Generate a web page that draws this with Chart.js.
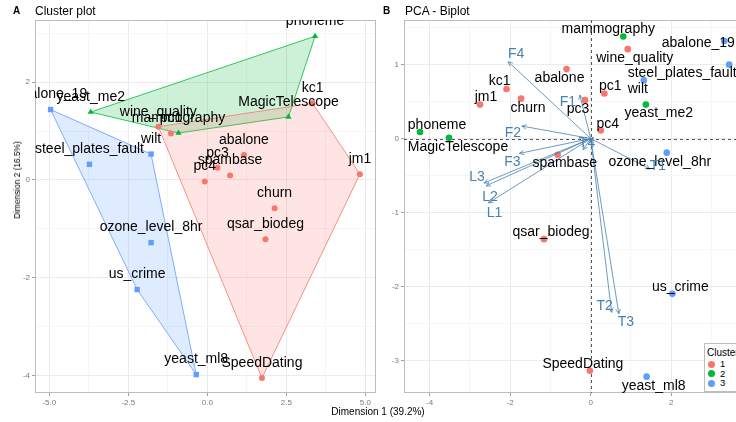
<!DOCTYPE html>
<html>
<head>
<meta charset="utf-8">
<script src="https://cdn.jsdelivr.net/npm/chart.js@4.4.0/dist/chart.umd.min.js"></script>
<style>
html, body { margin: 0; padding: 0; background: #fff; overflow: hidden; width: 736px; height: 422px; }
body { position: relative; font-family: "Liberation Sans", Arial, sans-serif; color: #000; }
canvas { position: absolute; top: 0; }
#cA { left: 0; }
#cB { left: 380px; }
.tag { position: absolute; top: 6px; font-size: 10px; line-height: 10px; font-weight: bold; }
.ttl { position: absolute; top: 5px; font-size: 12px; line-height: 12px; }
#xt { position: absolute; left: 378px; top: 406px; font-size: 10px; line-height: 12px; transform: translateX(-50%); white-space: nowrap; }
#yt { position: absolute; left: 17px; top: 180px; font-size: 8.3px; line-height: 10px; transform: translate(-50%, -50%) rotate(-90deg); white-space: nowrap; }
#legend { position: absolute; left: 704px; top: 343px; width: 60px; height: 49px; background: #fff; border: 1px solid #bdbdbd; box-sizing: border-box; font-size: 10px; }
#legend .h { position: absolute; left: 2px; top: 3px; line-height: 11px; }
#legend .it { position: absolute; left: 3px; height: 10px; line-height: 10px; font-size: 9.5px; }
#legend .it i { display: inline-block; width: 7px; height: 7px; border-radius: 50%; margin-right: 5px; vertical-align: -0.5px; }
</style>
</head>
<body>
<canvas id="cA" width="380" height="422" style="width:380px;height:422px"></canvas>
<canvas id="cB" width="400" height="422" style="width:400px;height:422px"></canvas>
<div class="tag" style="left:13px">A</div>
<div class="ttl" style="left:35px">Cluster plot</div>
<div class="tag" style="left:383px">B</div>
<div class="ttl" style="left:405px">PCA - Biplot</div>
<div id="xt">Dimension 1 (39.2%)</div>
<div id="yt">Dimension 2 (16.5%)</div>
<div id="legend"></div>
<script>
var names = ['abalone', 'abalone_19', 'churn', 'jm1', 'kc1', 'MagicTelescope', 'mammography',
    'ozone_level_8hr', 'pc1', 'pc3', 'pc4', 'phoneme', 'qsar_biodeg', 'spambase', 'SpeedDating',
    'steel_plates_fault', 'us_crime', 'wilt', 'wine_quality', 'yeast_me2', 'yeast_ml8'];
var cluster = [1, 3, 1, 1, 1, 2, 2, 3, 1, 1, 1, 2, 1, 1, 1, 3, 3, 3, 1, 2, 3];

// cluster plot coordinates
var dim1 = [1.16, -4.96, 2.13, 4.83, 3.33, 2.57, -0.91, -1.78, -1.15, 0.32, -0.08, 3.41, 1.84, 0.72, 1.73, -3.73, -2.22, -1.78, -1.55, -3.69, -0.35];
var dim2 = [0.51, 1.44, -0.58, 0.12, 1.57, 1.29, 0.96, -1.28, 0.95, 0.25, -0.03, 2.94, -1.21, 0.09, -4.05, 0.32, -2.24, 0.53, 1.09, 1.39, -3.98];

// biplot coordinates
var pcX = [-0.60, 3.32, -1.73, -2.75, -2.09, -3.52, 0.81, 1.89, 0.34, -0.14, 0.25, -4.24, -1.16, -0.82, -0.02, 3.44, 2.03, 1.32, 0.92, 1.37, 1.39];
var pcY = [0.94, 1.32, 0.54, 0.46, 0.67, 0.01, 1.38, -0.19, 0.61, 0.52, 0.11, 0.09, -1.36, -0.22, -3.14, 1.00, -2.10, 0.79, 1.21, 0.46, -3.22];

var varNames = ['F1', 'F2', 'F3', 'F4', 'L1', 'L2', 'L3', 'T1', 'T2', 'T3', 'T4'];
var varX = [-0.27, -1.71, -1.77, -2.05, -2.54, -2.60, -2.65, 1.47, 0.52, 0.70, -0.19];
var varY = [0.59, 0.17, -0.20, 1.04, -0.87, -0.64, -0.60, -0.41, -2.35, -2.37, -0.15];

var clusterIds = [1, 2, 3];
var colors = ['#F8766D', '#00BA38', '#619CFF'];
var fills = ['rgba(248,118,109,0.2)', 'rgba(0,186,56,0.2)', 'rgba(97,156,255,0.2)'];
var shapes = ['circle', 'triangle', 'rect'];
var shapeSize = [3, 3.6, 3.8];

// label nudges in pixels for the biplot (text centre relative to mark)
var nudgeInd = [[-7, 9], [-26, 2], [7, 9], [6, -7], [-7, -8], [9, 9], [-15, -7], [-7, 10], [6, -7], [-7, 9], [7, -6],
    [17, -7], [7, -7], [7, 8], [-7, -7], [-47, 8], [8, -7], [-6, 9], [7, 9], [13, 9], [7, 9]];
var nudgeVar = [[-12, 7], [-9, 7], [-7, 9], [8, -8], [6, 10], [4, 11], [-7, -6], [8, -3], [-7, -6], [7, 8], [4, -7]];

var FONT = '"Liberation Sans", Arial, sans-serif';
var steel = '#4682B4';

function hull(idx, xs, ys) {
    var p = idx.map(function(i) { return { x: xs[i], y: ys[i] }; });
    p.sort(function(a, b) { return a.x - b.x || a.y - b.y; });
    function cross(o, a, b) { return (a.x - o.x) * (b.y - o.y) - (a.y - o.y) * (b.x - o.x); }
    var lower = [], upper = [];
    for (var i = 0; i < p.length; i++) {
        while (lower.length >= 2 && cross(lower[lower.length - 2], lower[lower.length - 1], p[i]) <= 0) lower.pop();
        lower.push(p[i]);
    }
    for (var j = p.length - 1; j >= 0; j--) {
        while (upper.length >= 2 && cross(upper[upper.length - 2], upper[upper.length - 1], p[j]) <= 0) upper.pop();
        upper.push(p[j]);
    }
    upper.pop(); lower.pop();
    var h = lower.concat(upper);
    h.push(h[0]);
    return h;
}

function members(k) {
    var out = [];
    cluster.forEach(function(c, i) { if (c === k) out.push(i); });
    return out;
}

function near(v, step) { return Math.abs(v / step - Math.round(v / step)) < 1e-6; }

function axis(min, max, step, major, fmt, fit, isX) {
    return {
        type: 'linear', min: min, max: max,
        border: { display: false },
        grid: {
            color: function(c) { return c.tick && near(c.tick.value, major) ? '#ebebeb' : '#f6f6f6'; },
            tickColor: function(c) { return c.tick && near(c.tick.value, major) ? '#a0a0a0' : 'rgba(0,0,0,0)'; },
            tickLength: 3, lineWidth: 1
        },
        ticks: {
            stepSize: step, includeBounds: false, autoSkip: false, maxTicksLimit: 100,
            maxRotation: 0, padding: 2, color: '#7a7a7a', font: { size: 8, family: FONT },
            callback: function(v) { return near(v, major) ? fmt(v) : ''; }
        },
        afterFit: function(s) { if (isX) s.height = fit; else s.width = fit; }
    };
}

var frame = {
    id: 'frame',
    beforeDatasetsDraw: function(chart) {
        var a = chart.chartArea, c = chart.ctx;
        c.save();
        c.strokeStyle = '#bdbdbd';
        c.lineWidth = 1;
        c.strokeRect(a.left + 0.5, a.top + 0.5, a.right - a.left - 1, a.bottom - a.top - 1);
        c.restore();
    }
};

function clipArea(chart) {
    var a = chart.chartArea, c = chart.ctx;
    c.beginPath();
    c.rect(a.left, a.top, a.right - a.left, a.bottom - a.top);
    c.clip();
}

// ---------- A: cluster plot ----------
var dsA = [];
clusterIds.forEach(function(k, n) {
    dsA.push({
        type: 'line', data: hull(members(k), dim1, dim2), fill: 'shape',
        backgroundColor: fills[n], borderColor: colors[n], borderWidth: 0.8,
        pointRadius: 0, tension: 0, order: 2
    });
});
clusterIds.forEach(function(k, n) {
    dsA.push({
        type: 'scatter',
        data: members(k).map(function(i) { return { x: dim1[i], y: dim2[i] }; }),
        pointStyle: shapes[n], pointRadius: shapeSize[n], pointBorderWidth: 0,
        backgroundColor: colors[n], borderColor: colors[n], order: 1
    });
});

var labelsA = {
    id: 'labelsA',
    afterDatasetsDraw: function(chart) {
        var xs = chart.scales.x, ys = chart.scales.y, c = chart.ctx;
        c.save();
        clipArea(chart);
        c.font = '14px ' + FONT;
        c.fillStyle = '#000';
        c.textAlign = 'center';
        c.textBaseline = 'middle';
        names.forEach(function(n, i) {
            c.fillText(n, xs.getPixelForValue(dim1[i]), ys.getPixelForValue(dim2[i]) - 15);
        });
        c.restore();
    }
};

new Chart(document.getElementById('cA'), {
    type: 'scatter',
    data: { datasets: dsA },
    options: {
        responsive: false, animation: false,
        layout: { padding: { top: 20, right: 4, left: 0, bottom: 0 } },
        plugins: { legend: { display: false }, tooltip: { enabled: false } },
        scales: {
            x: axis(-5.453, 5.339, 1.25, 2.5, function(v) { return v.toFixed(1); }, 29, true),
            y: axis(-4.356, 3.272, 1, 2, function(v) { return String(Math.round(v)); }, 35, false)
        }
    },
    plugins: [frame, labelsA]
});

// ---------- B: biplot ----------
var dsB = [];
varNames.forEach(function(v, i) {
    dsB.push({
        type: 'line', data: [{ x: 0, y: 0 }, { x: varX[i], y: varY[i] }],
        borderColor: steel, borderWidth: 0.8, pointRadius: 0, fill: false, order: 0
    });
});
clusterIds.forEach(function(k, n) {
    dsB.push({
        type: 'scatter',
        data: members(k).map(function(i) { return { x: pcX[i], y: pcY[i] }; }),
        pointStyle: 'circle', pointRadius: 3.3, pointBorderWidth: 0,
        backgroundColor: colors[n], borderColor: colors[n], order: 1
    });
});

var zeroLines = {
    id: 'zeroLines',
    beforeDatasetsDraw: function(chart) {
        var xs = chart.scales.x, ys = chart.scales.y, c = chart.ctx, a = chart.chartArea;
        var px = Math.round(xs.getPixelForValue(0)) + 0.5, py = Math.round(ys.getPixelForValue(0)) + 0.5;
        c.save();
        c.strokeStyle = '#555';
        c.lineWidth = 1;
        c.setLineDash([3, 3]);
        c.beginPath();
        c.moveTo(px, a.top); c.lineTo(px, a.bottom);
        c.moveTo(a.left, py); c.lineTo(a.right, py);
        c.stroke();
        c.restore();
    }
};

var labelsB = {
    id: 'labelsB',
    afterDatasetsDraw: function(chart) {
        var xs = chart.scales.x, ys = chart.scales.y, c = chart.ctx;
        var ox = xs.getPixelForValue(0), oy = ys.getPixelForValue(0);
        c.save();
        clipArea(chart);
        // arrow heads
        c.strokeStyle = steel;
        c.lineWidth = 0.8;
        varNames.forEach(function(v, i) {
            var ex = xs.getPixelForValue(varX[i]), ey = ys.getPixelForValue(varY[i]);
            var ang = Math.atan2(ey - oy, ex - ox), L = 5, w = 0.45;
            c.beginPath();
            c.moveTo(ex - L * Math.cos(ang - w), ey - L * Math.sin(ang - w));
            c.lineTo(ex, ey);
            c.lineTo(ex - L * Math.cos(ang + w), ey - L * Math.sin(ang + w));
            c.stroke();
        });
        c.font = '14px ' + FONT;
        c.textAlign = 'center';
        c.textBaseline = 'middle';
        c.fillStyle = '#000';
        names.forEach(function(n, i) {
            c.fillText(n, xs.getPixelForValue(pcX[i]) + nudgeInd[i][0], ys.getPixelForValue(pcY[i]) + nudgeInd[i][1]);
        });
        c.fillStyle = steel;
        varNames.forEach(function(v, i) {
            c.fillText(v, xs.getPixelForValue(varX[i]) + nudgeVar[i][0], ys.getPixelForValue(varY[i]) + nudgeVar[i][1]);
        });
        c.restore();
    }
};

new Chart(document.getElementById('cB'), {
    type: 'scatter',
    data: { datasets: dsB },
    options: {
        responsive: false, animation: false,
        layout: { padding: { top: 20, right: 10, left: 0, bottom: 0 } },
        plugins: { legend: { display: false }, tooltip: { enabled: false } },
        scales: {
            x: axis(-4.638, 4.455, 1, 2, function(v) { return String(Math.round(v)); }, 29, true),
            y: axis(-3.441, 1.604, 0.5, 1, function(v) { return String(Math.round(v)); }, 24, false)
        }
    },
    plugins: [frame, zeroLines, labelsB]
});

// legend
var lg = document.getElementById('legend');
var html = '<div class="h">Cluster</div>';
clusterIds.forEach(function(k, n) {
    html += '<div class="it" style="top:' + (15 + n * 9.5) + 'px"><i style="background:' + colors[n] + '"></i>' + k + '</div>';
});
lg.innerHTML = html;
</script>
</body>
</html>
